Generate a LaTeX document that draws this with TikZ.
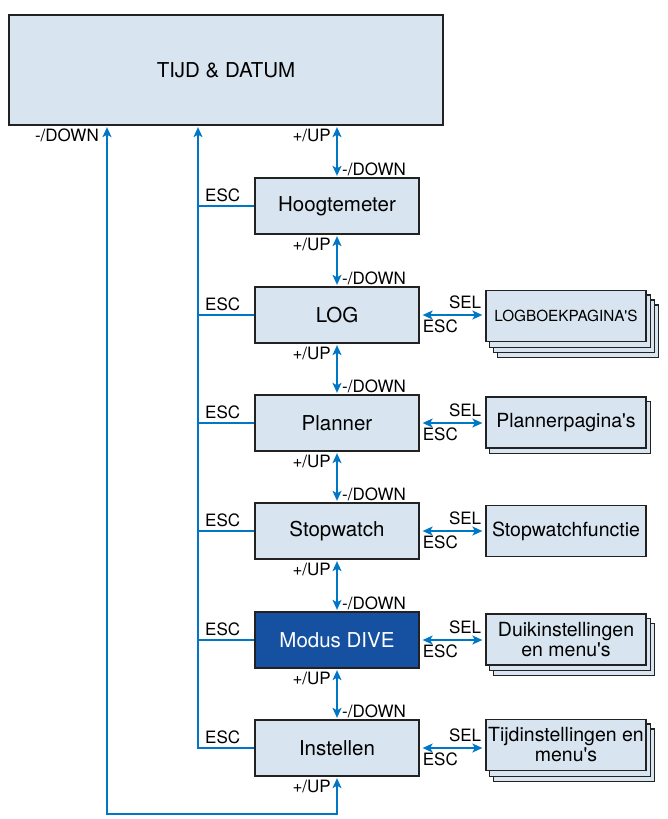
\documentclass[tikz,border=0pt]{standalone}
\usepackage{fontspec}
\setmainfont{TeX Gyre Heros}
\usetikzlibrary{arrows.meta,backgrounds}

\definecolor{boxfill}{RGB}{216,229,240}
\definecolor{divefill}{RGB}{22,80,160}
\definecolor{linkblue}{RGB}{0,118,198}
\definecolor{edge}{RGB}{34,34,34}

\tikzset{
  menubox/.style={draw=edge, line width=1.3pt, fill=boxfill, minimum width=164pt, minimum height=56pt, inner sep=0pt, font=\fontsize{20.5}{23}\selectfont},
  pagebox/.style={draw=edge, line width=1.3pt, fill=boxfill, minimum width=160pt, minimum height=51pt, inner sep=0pt, align=center, font=\fontsize{19.5}{20}\selectfont},
  link/.style={draw=linkblue, line width=1.5pt},
  tip/.tip={Stealth[length=10pt,width=9pt,inset=2.5pt]},
  keylabel/.style={inner sep=0pt, font=\fontsize{17}{19}\selectfont}
}

\begin{document}
\begin{tikzpicture}[x=1pt,y=1pt,yscale=-1,xscale=1]
  \useasboundingbox (0,0) rectangle (668,819);

  % main menu column
  \node[menubox, minimum width=434pt, minimum height=110pt] (tijd) at (226,70) {TIJD \& DATUM};
  \node[menubox] (hoog) at (337,206) {Hoogtemeter};
  \node[menubox] (log) at (337,315) {LOG};
  \node[menubox] (plan) at (337,423) {Planner};
  \node[menubox] (stop) at (337,531) {Stopwatch};
  \node[menubox, fill=divefill, text=white] (dive) at (337,640) {Modus DIVE};
  \node[menubox] (inst) at (337,748) {Instellen};

  % pages on the right
  \node[pagebox, font=\fontsize{15.3}{17}\selectfont] (logp) at (566,316) {LOGBOEKPAGINA\textquotesingle S};
  \node[pagebox] (planp) at (566,422.5) {Plannerpagina\textquotesingle s};
  \node[pagebox] (stopp) at (566,531) {Stopwatchfunctie};
  \node[pagebox] (duik) at (566,639.5) {Duikinstellingen\\en menu\textquotesingle s};
  \node[pagebox] (tijdm) at (566,745) {Tijdinstellingen en\\menu\textquotesingle s};

  % stacked sheets behind the pages
  \begin{scope}[on background layer]
    \foreach \name/\n in {logp/3,planp/1,duik/2,tijdm/2}
      \foreach \k in {\n,...,1}
        \draw[draw=edge, line width=1.3pt, fill=boxfill]
          ([shift={(4*\k,5*\k)}]\name.north west) rectangle ([shift={(4*\k,5*\k)}]\name.south east);
  \end{scope}

  % up / down between the menus
  \foreach \a/\b in {tijd/hoog,hoog/log,log/plan,plan/stop,stop/dive,dive/inst} {
    \draw[link, {tip}-{tip}, shorten <=1.5pt, shorten >=1.5pt] (\a.south -| \b) -- (\b.north);
    \node[keylabel, anchor=north east] (up-\b) at ([shift={(-6,3)}]\a.south -| \b) {+/UP};
    \node[keylabel, anchor=south west] (dn-\b) at ([shift={(5,-1)}]\b.north) {-/DOWN};
  }

  % SEL / ESC to the pages
  \foreach \m/\p in {log/logp,plan/planp,stop/stopp,dive/duik,inst/tijdm} {
    \draw[link, {tip}-{tip}, shorten <=3pt, shorten >=3pt] (\m.east) -- (\m.east -| \p.west);
    \node[keylabel, anchor=south east] (sel-\m) at ([shift={(-4,-6)}]\m.east -| \p.west) {SEL};
    \node[keylabel, anchor=north west] (esc-\m) at ([shift={(3,5)}]\m.east) {ESC};
  }

  % ESC back to TIJD & DATUM
  \coordinate (trunk) at (198,748);
  \draw[link, -{tip}, shorten >=1.5pt] (inst.west) -- (trunk) -- (trunk |- tijd.south);
  \foreach \m in {hoog,log,plan,stop,dive}
    \draw[link] (\m.west) -- (\m.west -| trunk);
  \foreach \m in {hoog,log,plan,stop,dive,inst}
    \node[keylabel, anchor=south east] (back-\m) at ([shift={(-14,-4)}]\m.west) {ESC};

  % loop from the last menu
  \coordinate (loop) at (107,814);
  \draw[link, {tip}-{tip}, shorten <=1.5pt, shorten >=1.5pt] (tijd.south -| loop) -- (loop) -| (inst.south);
  \node[keylabel, anchor=north east] (up-end) at ([shift={(-6,3)}]inst.south) {+/UP};
  \node[keylabel, anchor=north east] (dn-top) at ([shift={(-8,3)}]tijd.south -| loop) {-/DOWN};
\end{tikzpicture}
\end{document}
